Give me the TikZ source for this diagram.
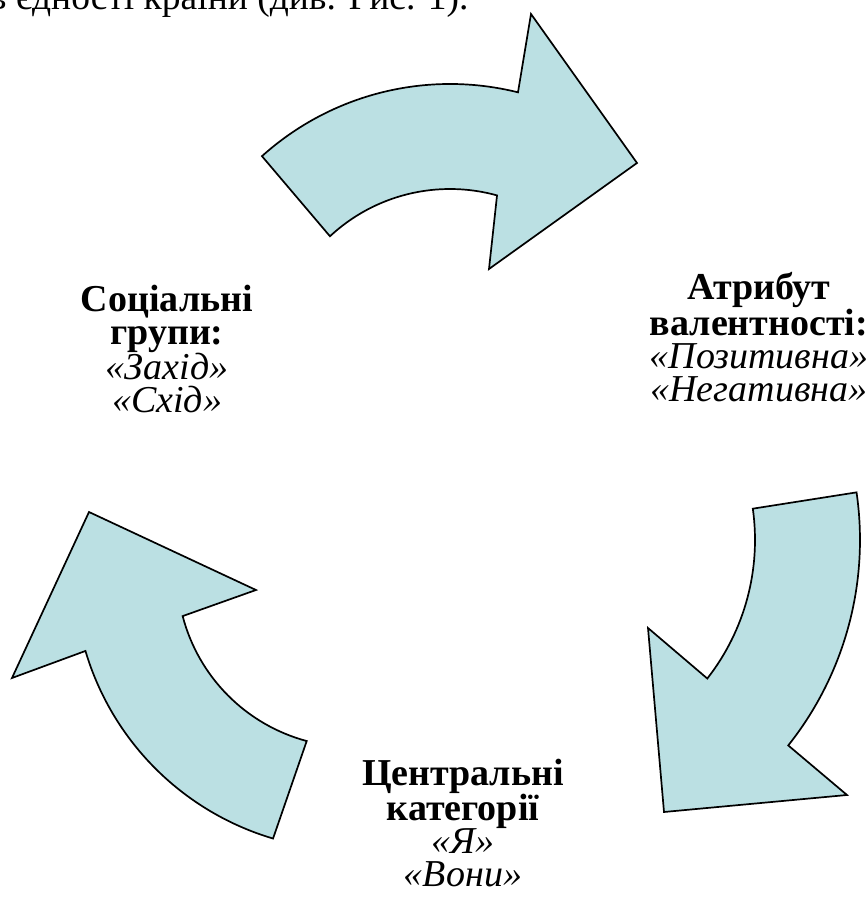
\documentclass[tikz,border=0pt]{standalone}
\usepackage{fontspec}
\setmainfont{Liberation Serif}
\usetikzlibrary{calc}
\definecolor{arrowfill}{HTML}{BBE0E3}
\begin{document}
\begin{tikzpicture}[x=1pt, y=1pt,
    cyclearrow/.style={fill=arrowfill, draw=black, line width=1.7pt, line join=miter},
    blocktext/.style={align=center, inner sep=0pt, font=\fontsize{38}{33}\selectfont}]
\clip (0,0) rectangle (866,900);

% line of the text above the figure
\node[anchor=base west, inner sep=0pt, font=\fontsize{37.5}{44}\selectfont] (caption) at (-30,890) {ов єдності країни (див. Рис. 1).};

% top arrow
\coordinate (c1) at (450,535);
\draw[cyclearrow] ($(c1)+(132:281)$) arc[start angle=132, end angle=76, radius=281]
    -- (531,886) -- (637,737) -- (489,631)
    -- ($(c1)+(74.5:176)$) arc[start angle=74.5, end angle=133, radius=176] -- cycle;

% right arrow
\coordinate (c2) at (530,360);
\draw[cyclearrow] ($(c2)+(8:225)$) arc[start angle=8, end angle=-38, radius=225]
    -- (648,272) -- (664,88) -- (847,105)
    -- ($(c2)+(-38.5:330)$) arc[start angle=-38.5, end angle=8.3, radius=330] -- cycle;

% left arrow
\coordinate (c3) at (352,328);
\draw[cyclearrow] ($(c3)+(194.6:175)$) arc[start angle=194.6, end angle=255, radius=175]
    -- ($(c3)+(253.5:278)$) arc[start angle=253.5, end angle=196.5, radius=278]
    -- (12,222) -- (89,388) -- (256,310) -- cycle;

\node[blocktext] (groups) at (167,551) {\textbf{Соціальні}\\\textbf{групи:}\\\textit{«Захід»}\\\textit{«Схід»}};
\node[blocktext] (valence) at (759,563) {\textbf{Атрибут}\\\textbf{валентності:}\\\textit{«Позитивна»}\\\textit{«Негативна»}};
\node[blocktext] (central) at (463,77) {\textbf{Центральні}\\\textbf{категорії}\\\textit{«Я»}\\\textit{«Вони»}};
\end{tikzpicture}
\end{document}
